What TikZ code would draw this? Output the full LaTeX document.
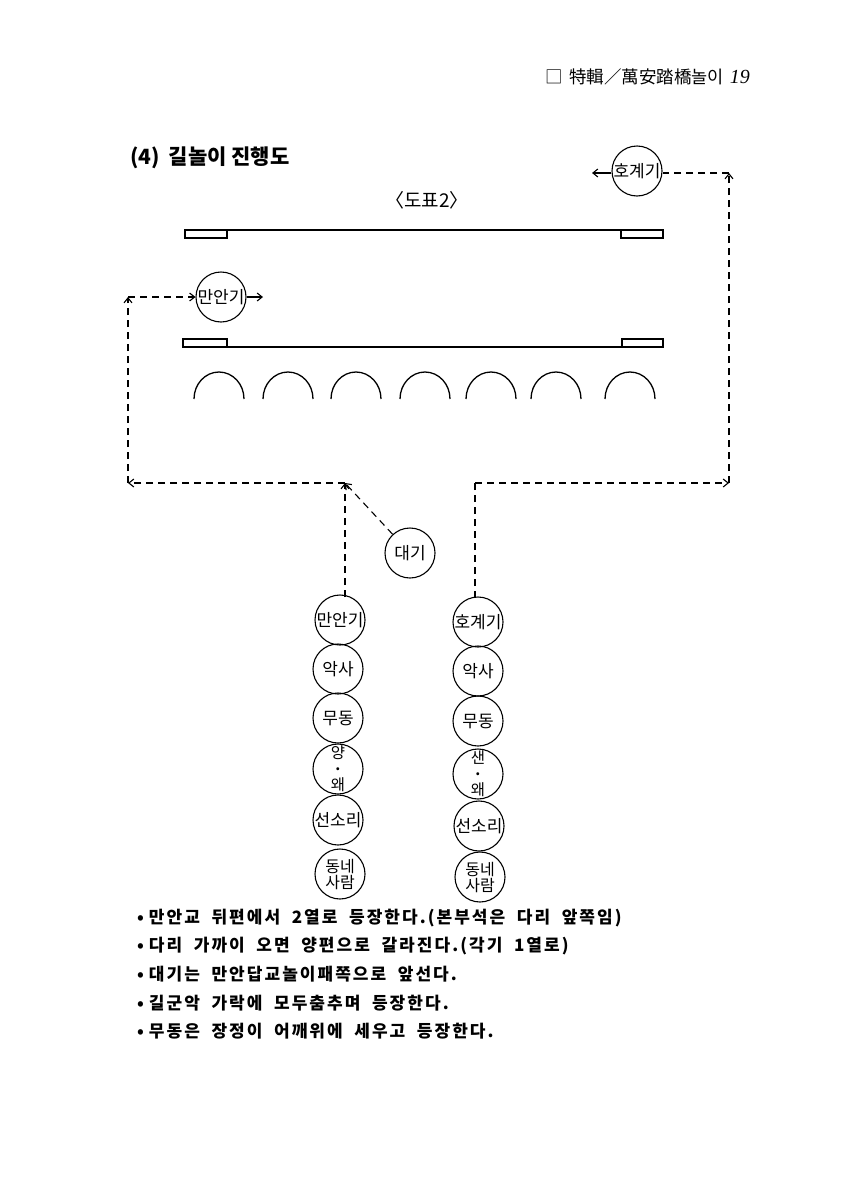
\documentclass[tikz,border=0pt]{standalone}
\usepackage{fontspec}
\setmainfont{Noto Sans CJK KR}
\newfontfamily\notefont[LetterSpace=12]{Noto Sans CJK KR}
\newfontfamily\latser{Liberation Serif}
\usetikzlibrary{arrows.meta}
\newcommand\mynotesetup{\notefont\bfseries\fontsize{17}{17}\selectfont\spaceskip=0.68em\relax}
\tikzset{
  person/.style={circle, draw, line width=1.1pt, minimum size=50pt, inner sep=0pt,
    font=\fontsize{17}{17}\selectfont, align=center},
  stack/.style={font=\fontsize{15.5}{16}\selectfont},
  dline/.style={line width=1.1pt, dash pattern=on 7pt off 5pt},
  tipend/.style={-{Straight Barb[length=5pt,width=8pt]}},
  bridge/.style={line width=1.1pt},
  arch/.style={line width=1.3pt},
  note/.style={anchor=west, inner sep=0pt, font=\mynotesetup}
}
\begin{document}
\begin{tikzpicture}[x=1pt,y=-1pt]
\useasboundingbox (0,0) rectangle (864,1191);
% header
\node[anchor=east, inner sep=0pt, font=\fontsize{17.5}{17.5}\selectfont] (hdr) at (750,77)
  {□\hspace{6pt}特輯／萬安踏橋놀이\hspace{6pt}{\latser\itshape\fontsize{20}{20}\selectfont 19}};
% title
\node[anchor=west, inner sep=0pt, font=\fontsize{21}{21}\selectfont\bfseries] (title) at (130,158) {(4)\hspace{9pt}길놀이 진행도};
\node[inner sep=0pt, font=\fontsize{19}{19}\selectfont] (fig) at (427,200) {〈도표2〉};
% bridges
\draw[bridge] (185,230) -- (663,230);
\draw[bridge] (185,230) rectangle (227,238);
\draw[bridge] (621,230) rectangle (663,238);
\draw[bridge] (183,347) -- (663,347);
\draw[bridge] (183,339) rectangle (227,347);
\draw[bridge] (622,339) rectangle (663,347);
% arches
\foreach \cx in {219,288,356,425,491,556,630}
  \draw[arch] (\cx-25,399) arc[start angle=180, end angle=0, x radius=25pt, y radius=27pt];
% top flags
\node[person] (hogyeT) at (637,171) {호계기};
\node[person] (mananT) at (221,297) {만안기};
% waiting
\node[person] (daegi) at (410,553) {대기};
% left column
\node[person] (L1) at (340,620) {만안기};
\node[person] (L2) at (338,669) {악사};
\node[person] (L3) at (338,718) {무동};
\node[person, stack] (L4) at (338,769) {양\\{\fontsize{14}{10}\selectfont\bfseries ·}\\왜};
\node[person] (L5) at (338,820) {선소리};
\node[person, font=\fontsize{16}{16}\selectfont] (L6) at (340,874) {동네\\사람};
% right column
\node[person] (R1) at (478,622) {호계기};
\node[person] (R2) at (478,671) {악사};
\node[person] (R3) at (478,721) {무동};
\node[person, stack] (R4) at (478,774) {샌\\{\fontsize{14}{10}\selectfont\bfseries ·}\\왜};
\node[person] (R5) at (479,826) {선소리};
\node[person, font=\fontsize{16}{16}\selectfont] (R6) at (480,877) {동네\\사람};
% route coordinates
\coordinate (jL) at (345,483);
\coordinate (cBL) at (128,483);
\coordinate (cTL) at (128,297);
\coordinate (mOut) at (263,297);
\coordinate (jR) at (475,483);
\coordinate (cBR) at (729,483);
\coordinate (cTR) at (729,173);
\coordinate (hOut) at (592,173);
\coordinate (L1top) at (345,597);
\coordinate (R1top) at (475,598);
% routes
\draw[dline, tipend] (L1top) -- (jL);
\draw[dline, tipend] (daegi) -- (jL);
\draw[dline, tipend] (jL) -- (cBL);
\draw[dline, tipend] (cBL) -- (cTL);
\draw[dline, tipend] (cTL) -- (mananT);
\draw[line width=1.1pt, tipend] (mananT) -- (mOut);
\draw[dline] (R1top) -- (jR);
\draw[dline, tipend] (jR) -- (cBR);
\draw[dline, tipend] (cBR) -- (cTR);
\draw[dline] (cTR) -- (hogyeT.east |- cTR);
\draw[line width=1.1pt, tipend] (hogyeT.west |- hOut) -- (hOut);
% notes
\node[note] (n1) at (137,918) {•\hspace{5pt}만안교 뒤편에서 2열로 등장한다.(본부석은 다리 앞쪽임)};
\node[note] (n2) at (137,946) {•\hspace{5pt}다리 가까이 오면 양편으로 갈라진다.(각기 1열로)};
\node[note] (n3) at (137,974) {•\hspace{5pt}대기는 만안답교놀이패쪽으로 앞선다.};
\node[note] (n4) at (137,1003) {•\hspace{5pt}길군악 가락에 모두춤추며 등장한다.};
\node[note] (n5) at (137,1031) {•\hspace{5pt}무동은 장정이 어깨위에 세우고 등장한다.};
\end{tikzpicture}
\end{document}
